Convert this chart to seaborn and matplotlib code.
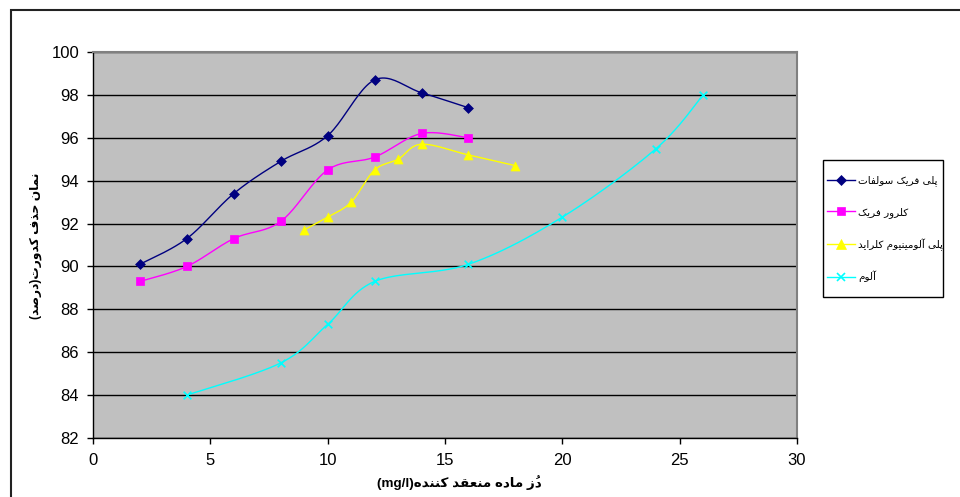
import numpy as np
import pandas as pd
import matplotlib
matplotlib.use("Agg")
import matplotlib.pyplot as plt
import seaborn as sns
from matplotlib.lines import Line2D
from matplotlib.patches import Rectangle

# ---------------- data ----------------
pfs_x = [2, 4, 6, 8, 10, 12, 14, 16]
pfs_y = [90.1, 91.3, 93.4, 94.9, 96.1, 98.7, 98.1, 97.4]
fc_x = [2, 4, 6, 8, 10, 12, 14, 16]
fc_y = [89.3, 90.0, 91.3, 92.1, 94.5, 95.1, 96.2, 96.0]
pac_x = [9, 10, 11, 12, 13, 14, 16, 18]
pac_y = [91.7, 92.3, 93.0, 94.5, 95.0, 95.7, 95.2, 94.7]
alum_x = [4, 8, 10, 12, 16, 20, 24, 26]
alum_y = [84.0, 85.5, 87.3, 89.3, 90.1, 92.3, 95.5, 98.0]

series_names = ["پلی فریک سولفات", "کلرور فریک", "پلی آلومینیوم کلراید", "آلوم"]
x_label_text = "دُز ماده منعقد کننده"
x_label_unit = "(mg/l)"
y_label_text = "نمان حذف کدورت(درصد)"
x_ticks = [0, 5, 10, 15, 20, 25, 30]
y_ticks = [82, 84, 86, 88, 90, 92, 94, 96, 98, 100]

# ---------------- minimal Arabic/Persian shaping ----------------
FORMS = {
    "ا": ("\uFE8D", "\uFE8E"), "آ": ("\uFE81", "\uFE82"),
    "د": ("\uFEA9", "\uFEAA"), "ذ": ("\uFEAB", "\uFEAC"),
    "ر": ("\uFEAD", "\uFEAE"), "ز": ("\uFEAF", "\uFEB0"),
    "و": ("\uFEED", "\uFEEE"),
    "ب": ("\uFE8F", "\uFE90", "\uFE91", "\uFE92"),
    "پ": ("\uFB56", "\uFB57", "\uFB58", "\uFB59"),
    "ت": ("\uFE95", "\uFE96", "\uFE97", "\uFE98"),
    "ح": ("\uFEA1", "\uFEA2", "\uFEA3", "\uFEA4"),
    "س": ("\uFEB1", "\uFEB2", "\uFEB3", "\uFEB4"),
    "ص": ("\uFEB9", "\uFEBA", "\uFEBB", "\uFEBC"),
    "ع": ("\uFEC9", "\uFECA", "\uFECB", "\uFECC"),
    "ف": ("\uFED1", "\uFED2", "\uFED3", "\uFED4"),
    "ق": ("\uFED5", "\uFED6", "\uFED7", "\uFED8"),
    "ک": ("\uFB8E", "\uFB8F", "\uFB90", "\uFB91"),
    "ل": ("\uFEDD", "\uFEDE", "\uFEDF", "\uFEE0"),
    "م": ("\uFEE1", "\uFEE2", "\uFEE3", "\uFEE4"),
    "ن": ("\uFEE5", "\uFEE6", "\uFEE7", "\uFEE8"),
    "ه": ("\uFEE9", "\uFEEA", "\uFEEB", "\uFEEC"),
    "ی": ("\uFBFC", "\uFBFD", "\uFBFE", "\uFBFF"),
}
MARKS = {"\u064F", "\u064E", "\u0650"}
MIRROR = {"(": ")", ")": "("}


def shape_rtl(s):
    chars = list(s)
    out = []
    n = len(chars)
    for i, c in enumerate(chars):
        if c not in FORMS:
            out.append(c)
            continue
        j = i - 1
        while j >= 0 and chars[j] in MARKS:
            j -= 1
        prev_joins = j >= 0 and chars[j] in FORMS and len(FORMS[chars[j]]) == 4
        k = i + 1
        while k < n and chars[k] in MARKS:
            k += 1
        next_joins = k < n and chars[k] in FORMS and len(FORMS[c]) == 4
        f = FORMS[c]
        if prev_joins and next_joins:
            out.append(f[3])
        elif prev_joins:
            out.append(f[1])
        elif next_joins:
            out.append(f[2])
        else:
            out.append(f[0])
    # visual order: reverse clusters; a mark is placed just before its base
    clusters = []
    for c in out:
        if c in MARKS and clusters:
            clusters[-1] = c + clusters[-1]
        else:
            clusters.append(c)
    clusters.reverse()
    return "".join(MIRROR.get(c, c) for c in clusters)


# ---------------- smoothing (Excel-like) ----------------
def smooth(xs, ys, n=24):
    P = np.column_stack([xs, ys]).astype(float)
    m = len(P)
    segs = []
    for i in range(m - 1):
        p0 = P[i - 1] if i > 0 else P[i]
        p1 = P[i]
        p2 = P[i + 1]
        p3 = P[i + 2] if i + 2 < m else P[i + 1]
        c1 = p1 + (p2 - p0) / 6.0
        c2 = p2 - (p3 - p1) / 6.0
        t = np.linspace(0, 1, n)[:, None]
        b = ((1 - t) ** 3) * p1 + 3 * ((1 - t) ** 2) * t * c1 + 3 * (1 - t) * t ** 2 * c2 + t ** 3 * p2
        segs.append(b if i == 0 else b[1:])
    B = np.vstack(segs)
    return B[:, 0], B[:, 1]


# ---------------- figure ----------------
plt.rcParams["font.family"] = ["Liberation Sans", "DejaVu Sans"]
W, H = 960, 497
fig = plt.figure(figsize=(W / 100, H / 100), dpi=100)
fig.patch.set_facecolor("white")

L, R, T, B = 93, 797, 52, 438
ax = fig.add_axes([L / W, (H - B) / H, (R - L) / W, (B - T) / H])
ax.set_facecolor("#C0C0C0")

series = [
    (pfs_x, pfs_y, "#000080", "D", 5.0),
    (fc_x, fc_y, "#FF00FF", "s", 6.0),
    (pac_x, pac_y, "#FFFF00", "^", 6.5),
    (alum_x, alum_y, "#00FFFF", "x", 5.5),
]

handles = []
for (xs, ys, col, mk, ms), name in zip(series, series_names):
    sx, sy = smooth(xs, ys)
    df_line = pd.DataFrame({"x": sx, "y": sy})
    sns.lineplot(data=df_line, x="x", y="y", sort=False, estimator=None,
                 color=col, linewidth=1.0, ax=ax, zorder=3)
    df_pts = pd.DataFrame({"x": xs, "y": ys})
    if mk == "x":
        sns.scatterplot(data=df_pts, x="x", y="y", marker="x", color=col,
                        s=ms ** 2, linewidth=1.2, ax=ax, zorder=4)
    else:
        sns.scatterplot(data=df_pts, x="x", y="y", marker=mk, color=col,
                        edgecolor=col, s=ms ** 2, linewidth=0.5, ax=ax, zorder=4)
    handles.append(Line2D([0], [0], color=col, lw=1.0, marker=mk, markersize=ms,
                          markerfacecolor=col, markeredgecolor=col,
                          markeredgewidth=1.2 if mk == "x" else 0.5,
                          label=shape_rtl(name)))

ax.set_xlim(0, 30)
ax.set_ylim(82, 100)
ax.set_xticks(x_ticks)
ax.set_yticks(y_ticks)
ax.set_xticklabels([str(v) for v in x_ticks])
ax.set_yticklabels([str(v) for v in y_ticks])
ax.grid(axis="y", color="#000000", linewidth=1.0, zorder=1)
ax.grid(axis="x", visible=False)
ax.set_axisbelow(True)
ax.tick_params(axis="both", direction="out", length=4, width=1.0, color="black",
               labelsize=12, labelcolor="black")
ax.tick_params(axis="y", pad=6)
ax.tick_params(axis="x", pad=7)
for s in ["left", "bottom"]:
    ax.spines[s].set_color("black")
    ax.spines[s].set_linewidth(1.0)
for s in ["top", "right"]:
    ax.spines[s].set_color("#808080")
    ax.spines[s].set_linewidth(1.5)
ax.set_xlabel("")
ax.set_ylabel("")

# axis titles
fig.text(459 / W, 1 - 483 / H, x_label_unit + shape_rtl(x_label_text),
         ha="center", va="center", fontsize=9.7, fontweight="bold",
         family=["Liberation Sans", "DejaVu Sans"])
fig.text(36 / W, 1 - 246 / H, shape_rtl(y_label_text), rotation=90,
         ha="center", va="center", fontsize=8.8, fontweight="bold",
         family=["Liberation Sans", "DejaVu Sans"])

# legend (frame drawn separately to match the box exactly)
fig.patches.append(Rectangle((823 / W, 1 - 297 / H), 120 / W, 137 / H,
                             transform=fig.transFigure, facecolor="white",
                             edgecolor="black", linewidth=1.0, zorder=2))
leg = fig.legend(handles=handles, loc="center left",
                 bbox_to_anchor=(827 / W, 1 - 229 / H), bbox_transform=fig.transFigure,
                 frameon=False, fontsize=7.5, handlelength=2.7, handletextpad=0.3,
                 labelspacing=1.95, borderpad=0, borderaxespad=0)
leg.set_zorder(3)
for t in leg.get_texts():
    t.set_family(["DejaVu Sans"])

# outer chart border
fig.patches.append(Rectangle((11 / W, -0.05), 1.2, (H - 10) / H + 0.05,
                             transform=fig.transFigure, fill=False,
                             edgecolor="#222222", linewidth=1.5, zorder=0))

fig.savefig("out.png", dpi=100, facecolor="white")
